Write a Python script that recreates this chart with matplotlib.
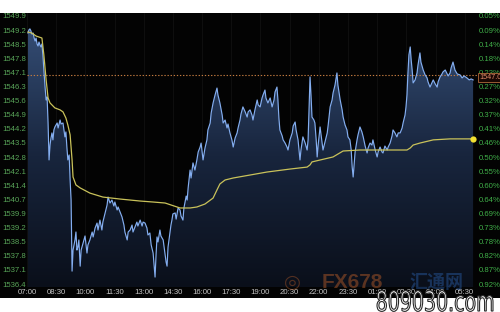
import numpy as np
import matplotlib
matplotlib.use("Agg")
import matplotlib.pyplot as plt
from matplotlib.colors import LinearSegmentedColormap
from matplotlib.patches import Rectangle, PathPatch
from matplotlib.textpath import TextPath
from matplotlib.font_manager import FontProperties
from matplotlib.transforms import Affine2D, IdentityTransform

plt.rcParams["font.family"] = ["Liberation Sans", "DejaVu Sans"]

# ---------------- data (minutes after 07:00, price) ----------------
price_t = [3, 6, 9, 12, 15, 19, 22, 25, 28, 31, 34, 37, 40, 43, 46, 49, 52, 56, 59, 62,
           65, 68, 71, 74, 77, 80, 83, 86, 93, 96, 102, 105, 111, 114, 117, 120, 123, 126, 130, 133,
           136, 139, 142, 148, 151, 154, 157, 160, 164, 167, 173, 179, 185, 188, 194, 201, 204, 210, 216, 219,
           225, 231, 234, 241, 247, 250, 256, 262, 268, 271, 278, 281, 287, 293, 299, 302, 309, 312, 318, 324,
           327, 333, 339, 342, 349, 355, 358, 364, 370, 373, 379, 383, 389, 392, 395, 398, 401, 404, 410, 413,
           420, 426, 429, 432, 435, 441, 444, 447, 450, 457, 460, 466, 472, 475, 481, 484, 491, 494, 497, 503,
           506, 512, 518, 524, 528, 534, 537, 543, 549, 555, 558, 565, 568, 574, 580, 586, 589, 595, 602, 605,
           611, 617, 620, 626, 632, 636, 642, 648, 651, 657, 660, 666, 673, 679, 682, 688, 694, 697, 703, 710,
           713, 719, 725, 728, 734, 737, 743, 750, 756, 762, 765, 771, 774, 777, 780, 787, 790, 796, 802, 805,
           811, 818, 821, 827, 830, 836, 839, 842, 845, 851, 858, 864, 867, 870, 873, 876, 879, 885, 888, 892,
           895, 898, 904, 907, 913, 919, 926, 929, 935, 941, 944, 950, 956, 959, 966, 972, 975, 981, 987, 990,
           996, 1000, 1003, 1006, 1009, 1012, 1018, 1021, 1027, 1033, 1037, 1043, 1049, 1052, 1058, 1064, 1067, 1074, 1080, 1083,
           1089, 1095, 1098, 1104, 1111, 1114, 1120, 1126, 1129, 1135, 1141, 1145, 1151, 1157, 1160, 1166, 1169, 1172, 1175, 1178,
           1182, 1185, 1188, 1191, 1197, 1203, 1206, 1212, 1215, 1222, 1228, 1234, 1237, 1243, 1249, 1253, 1259, 1265, 1268, 1274,
           1280, 1283, 1290, 1296, 1299, 1305, 1308, 1314, 1320, 1327, 1336, 1342, 1348, 1357, 1364, 1370, 1376]
price = [1549.09, 1549.25, 1549.30, 1549.20, 1549.04, 1549.09, 1548.84, 1548.69, 1548.84, 1548.54,
         1548.44, 1548.64, 1548.49, 1548.39, 1548.54, 1547.99, 1547.23, 1546.32, 1545.72, 1545.87,
         1544.56, 1542.70, 1543.45, 1543.81, 1544.06, 1543.71, 1544.21, 1544.36, 1544.56, 1544.31,
         1544.71, 1544.51, 1544.56, 1544.21, 1543.86, 1544.11, 1543.35, 1542.70, 1542.95, 1541.69,
         1540.68, 1537.10, 1538.16, 1538.67, 1539.07, 1538.16, 1538.31, 1538.67, 1537.35, 1538.16,
         1538.52, 1538.87, 1538.01, 1538.42, 1538.67, 1539.07, 1538.82, 1539.27, 1539.52, 1539.17,
         1539.67, 1539.17, 1539.57, 1540.03, 1540.43, 1540.83, 1540.53, 1540.68, 1540.38, 1540.58,
         1540.18, 1540.33, 1540.08, 1539.83, 1539.42, 1539.07, 1538.67, 1539.07, 1539.17, 1539.42,
         1539.07, 1539.32, 1539.57, 1539.37, 1539.67, 1539.37, 1539.57, 1539.52, 1539.27, 1538.92,
         1539.02, 1538.42, 1538.01, 1537.41, 1536.80, 1537.91, 1538.82, 1538.57, 1539.17, 1538.87,
         1538.67, 1537.91, 1537.56, 1537.35, 1538.31, 1539.07, 1539.42, 1539.67, 1539.98, 1540.03,
         1539.72, 1540.28, 1540.18, 1539.88, 1539.67, 1540.28, 1540.88, 1540.68, 1541.29, 1542.19,
         1541.79, 1542.55, 1542.19, 1542.70, 1543.10, 1543.35, 1543.55, 1542.70, 1543.30, 1543.71,
         1544.21, 1544.56, 1545.06, 1545.57, 1545.97, 1546.32, 1545.97, 1545.57, 1544.96, 1544.56,
         1544.71, 1544.31, 1544.51, 1544.06, 1543.71, 1543.35, 1543.81, 1544.06, 1544.31, 1544.71,
         1545.01, 1545.37, 1545.12, 1544.86, 1545.12, 1545.22, 1544.96, 1544.71, 1545.22, 1545.72,
         1545.47, 1545.37, 1545.82, 1545.97, 1546.22, 1545.82, 1545.57, 1545.82, 1545.37, 1545.72,
         1546.12, 1546.37, 1545.72, 1544.81, 1544.21, 1543.91, 1543.71, 1543.55, 1543.35, 1543.20,
         1543.71, 1544.06, 1544.41, 1544.61, 1544.21, 1543.71, 1543.20, 1542.70, 1543.20, 1543.86,
         1543.55, 1543.20, 1543.71, 1545.22, 1546.88, 1545.97, 1544.86, 1544.71, 1544.56, 1543.71,
         1542.85, 1543.45, 1544.36, 1543.96, 1543.20, 1543.60, 1544.06, 1544.46, 1545.37, 1545.72,
         1546.07, 1546.47, 1547.08, 1546.47, 1545.72, 1545.22, 1544.86, 1544.46, 1544.21, 1543.86,
         1543.71, 1543.20, 1542.34, 1541.84, 1542.45, 1543.10, 1543.71, 1543.96, 1544.36, 1544.11,
         1543.86, 1543.40, 1543.05, 1543.30, 1543.55, 1543.45, 1543.71, 1543.20, 1542.85, 1543.10,
         1543.35, 1543.10, 1543.05, 1543.40, 1543.20, 1543.35, 1543.55, 1543.91, 1544.21, 1544.06,
         1543.86, 1544.06, 1544.06, 1544.31, 1544.56, 1544.96, 1545.37, 1545.97, 1547.08, 1547.99,
         1548.39, 1547.73, 1547.23, 1546.58, 1546.73, 1547.08, 1547.48, 1548.09, 1547.63, 1547.23,
         1546.98, 1546.83, 1546.63, 1546.37, 1546.58, 1546.73, 1546.53, 1546.37, 1546.63, 1546.88,
         1547.03, 1547.13, 1547.23, 1547.03, 1546.93, 1547.08, 1547.33, 1547.63, 1547.23, 1547.03,
         1546.98, 1546.83, 1546.93, 1546.83, 1546.73, 1546.78, 1546.73]

avg_t = [3, 15, 28, 46, 52, 59, 65, 71, 86, 102, 111, 120, 126, 133, 139, 142, 151, 164, 194, 234,
         287, 349, 389, 426, 472, 503, 524, 549, 574, 586, 595, 611, 636, 688, 740, 811, 864, 873, 879, 944,
         975, 1027, 1172, 1182, 1191, 1212, 1253, 1305, 1376]
avg_price = [1549.14, 1549.09, 1548.94, 1548.84, 1547.99, 1546.73, 1545.82, 1545.57, 1545.32, 1545.22,
             1545.12, 1544.81, 1544.46, 1543.96, 1542.70, 1541.84, 1541.44, 1541.29, 1541.03, 1540.83,
             1540.73, 1540.63, 1540.58, 1540.53, 1540.28, 1540.28, 1540.33, 1540.48, 1540.78, 1541.19,
             1541.49, 1541.69, 1541.79, 1541.94, 1542.09, 1542.24, 1542.34, 1542.45, 1542.60, 1542.85,
             1543.15, 1543.20, 1543.20, 1543.30, 1543.45, 1543.55, 1543.71, 1543.76, 1543.76]

ref_price = 1547.0
ref_label = "1547.0"

left_labels = ["1549.9", "1549.2", "1548.5", "1547.8", "1547.1", "1546.3", "1545.6", "1544.9",
               "1544.2", "1543.5", "1542.8", "1542.1", "1541.4", "1540.7", "1539.9", "1539.2",
               "1538.5", "1537.8", "1537.1", "1536.4"]
right_labels = ["0.05%", "0.09%", "0.14%", "0.18%", "0.23%", "0.27%", "0.32%", "0.37%", "0.41%",
                "0.46%", "0.50%", "0.55%", "0.60%", "0.64%", "0.69%", "0.73%", "0.78%", "0.82%",
                "0.87%", "0.92%"]
x_labels = ["07:00", "08:30", "10:00", "11:30", "13:00", "14:30", "16:00", "17:30",
            "19:00", "20:30", "22:00", "23:30", "01:00", "02:30", "04:00", "05:30"]
x_ticks_min = [0, 90, 180, 270, 360, 450, 540, 630, 720, 810, 900, 990, 1080, 1170, 1260, 1350]

# ---------------- figure ----------------
W, H = 500, 312
fig = plt.figure(figsize=(5, 3.12), dpi=100)
fig.patch.set_facecolor("white")

# black panel behind everything
fig.patches.append(Rectangle((0, 1 - 298 / H), 1, (298 - 12.5) / H, transform=fig.transFigure,
                             facecolor="#030303", edgecolor="none", zorder=-10))

ax = fig.add_axes([27 / W, 1 - 287 / H, 450 / W, 274 / H], zorder=1)
ax.set_facecolor("#030303")
xmin, xmax = 0, 1388
ymin, ymax = 1536.30, 1550.10
ax.set_xlim(xmin, xmax)
ax.set_ylim(ymin, ymax)
for s in ax.spines.values():
    s.set_visible(False)
ax.set_xticks([])
ax.set_yticks([])

# faint vertical grid
for xt in x_ticks_min:
    ax.axvline(xt, color="#111111", lw=0.6, zorder=1)

# gradient fill under price
poly = ax.fill_between(price_t, price, ymin, color="none", lw=0)
cmap = LinearSegmentedColormap.from_list("g", ["#0a0f1a", "#18253d", "#354e76"])
grad = np.linspace(0, 1, 256).reshape(-1, 1)
im = ax.imshow(grad, extent=[xmin, xmax, ymin, 1549.5], aspect="auto", cmap=cmap,
               origin="lower", zorder=2)
im.set_clip_path(poly.get_paths()[0], transform=ax.transData)

ax.plot(price_t, price, color="#84aef0", lw=0.85, zorder=4)
ax.plot(avg_t, avg_price, color="#c9c25a", lw=0.9, zorder=5)
ax.plot([avg_t[-1]], [avg_price[-1]], "o", color="#f2e032", ms=4.5, mec="none", zorder=6,
        clip_on=False)
ax.axhline(ref_price, color="#c27a40", lw=0.8, ls=(0, (1.2, 1.6)), zorder=3)

# y labels
ypos = np.linspace(1549.9, 1536.4, len(left_labels))
ytr = ax.get_yaxis_transform()
for v, lab in zip(ypos, left_labels):
    ax.text(-25 / 450, v, lab, transform=ytr, ha="left", va="center", fontsize=5.6,
            color="#58a458", clip_on=False)
for v, lab in zip(ypos, right_labels):
    ax.text(1 + 2 / 450, v, lab, transform=ytr, ha="left", va="center", fontsize=5.6,
            color="#3fae48", clip_on=False)

# reference price box
ax.text(1 + 2 / 450, 1546.85, ref_label, transform=ytr, ha="left", va="center", fontsize=5.2,
        color="#e08a6a", clip_on=False, zorder=10,
        bbox=dict(boxstyle="square,pad=0.12", facecolor="#1a0804", edgecolor="#b06a3a", lw=0.6))

# x labels
xtr = ax.get_xaxis_transform()
for xt, lab in zip(x_ticks_min, x_labels):
    ax.text(xt, -6 / 274, lab, transform=xtr, ha="center", va="center", fontsize=5.6,
            color="#c4c4c4", clip_on=False)

# watermark logo
fig.text(322 / W, 1 - 282 / H, "FX678", fontsize=15, fontweight="bold", color="#c0602a",
         alpha=0.45, ha="left", va="center", zorder=20)
fig.text(410 / W, 1 - 282 / H, "汇通网", fontsize=13, fontweight="bold", color="#2a5ea8",
         alpha=0.45, ha="left", va="center", family=["Noto Sans CJK SC", "DejaVu Sans"], zorder=20)
fig.text(292 / W, 1 - 282 / H, "◎", fontsize=14, color="#c0602a", alpha=0.4,
         ha="center", va="center", family=["DejaVu Sans"], zorder=20)

# 809030.com watermark text
tp = TextPath((0, 0), "809030.com", size=10, prop=FontProperties(family="DejaVu Sans"))
bb = tp.get_extents()
sx = 116 / bb.width
sy = 20 / 7.3
tr = Affine2D().translate(-bb.x0, 0).scale(sx, sy).translate(377, H - 311)
patch = PathPatch(tr.transform_path(tp), facecolor="white", edgecolor="#2a2a2a", lw=0.8,
                  zorder=30)
patch.set_transform(IdentityTransform())
fig.patches.append(patch)

fig.savefig("out.png", dpi=100, facecolor=fig.get_facecolor())
